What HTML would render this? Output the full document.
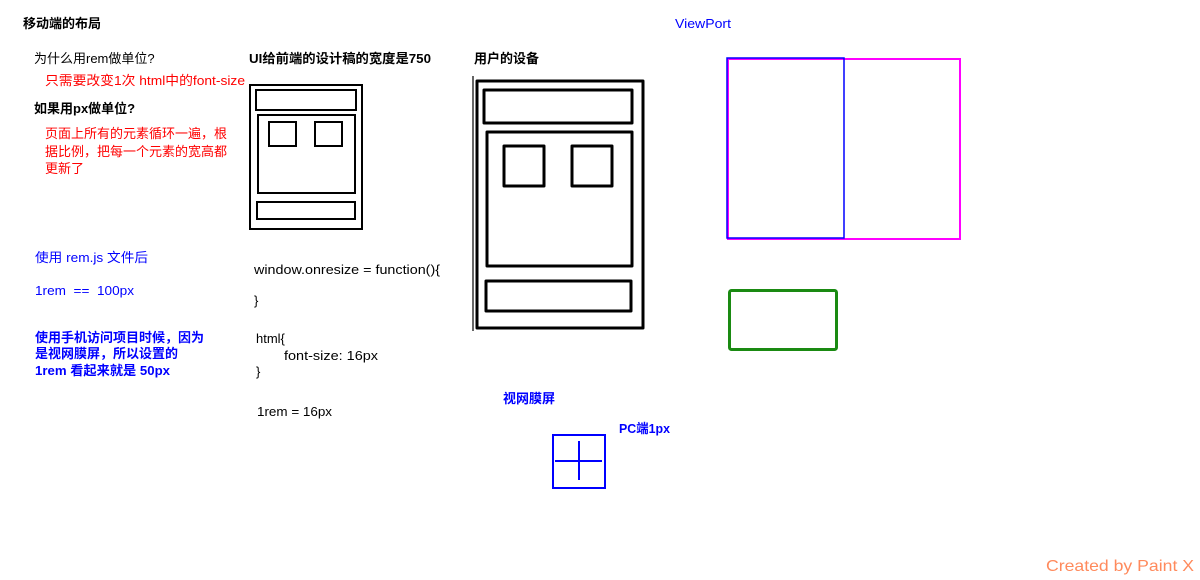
<!DOCTYPE html>
<html><head><meta charset="utf-8"><style>
html,body{margin:0;padding:0;background:#fff;}
svg{display:block;}
text{font-family:"Liberation Sans","Noto Sans CJK SC",sans-serif;font-size:13px;white-space:pre;}
.b{font-weight:bold;}
</style></head><body>
<svg width="1200" height="580" viewBox="0 0 1200 580" xmlns="http://www.w3.org/2000/svg">
<rect width="1200" height="580" fill="#fff"/>
<text x="23" y="28" class="b" fill="#000">移动端的布局</text>
<text x="34" y="63" fill="#000">为什么用rem做单位?</text>
<text x="45" y="85" fill="#f00" textLength="200" lengthAdjust="spacingAndGlyphs">只需要改变1次 html中的font-size</text>
<text x="34" y="113" class="b" fill="#000">如果用px做单位?</text>
<text x="45" y="138" fill="#f00">页面上所有的元素循环一遍，根</text>
<text x="45" y="156" fill="#f00">据比例，把每一个元素的宽高都</text>
<text x="45" y="173" fill="#f00">更新了</text>
<text x="35" y="262" fill="#00f" textLength="113" lengthAdjust="spacingAndGlyphs">使用 rem.js 文件后</text>
<text x="35" y="295" fill="#00f" textLength="99" lengthAdjust="spacingAndGlyphs">1rem  ==  100px</text>
<text x="35" y="342" class="b" fill="#00f">使用手机访问项目时候，因为</text>
<text x="35" y="358" class="b" fill="#00f">是视网膜屏，所以设置的</text>
<text x="35" y="375" class="b" fill="#00f" textLength="135" lengthAdjust="spacingAndGlyphs">1rem 看起来就是 50px</text>

<text x="249" y="63" class="b" fill="#000" textLength="182" lengthAdjust="spacingAndGlyphs">UI给前端的设计稿的宽度是750</text>
<g fill="none" stroke="#000" stroke-width="2">
<rect x="250" y="85" width="112" height="144"/>
<rect x="256" y="90" width="100" height="20"/>
<rect x="258" y="115" width="97" height="78"/>
<rect x="269" y="122" width="27" height="24"/>
<rect x="315" y="122" width="27" height="24"/>
<rect x="257" y="202" width="98" height="17"/>
</g>
<text x="254" y="274" fill="#000" textLength="186" lengthAdjust="spacingAndGlyphs">window.onresize = function(){</text>
<text x="254" y="305" fill="#000">}</text>
<text x="256" y="343" fill="#000">html{</text>
<text x="284" y="360" fill="#000" textLength="94" lengthAdjust="spacingAndGlyphs">font-size: 16px</text>
<text x="256" y="376" fill="#000">}</text>
<text x="257" y="416" fill="#000" textLength="75" lengthAdjust="spacingAndGlyphs">1rem = 16px</text>

<text x="474" y="63" class="b" fill="#000">用户的设备</text>
<line x1="473" y1="76" x2="473" y2="331" stroke="#000" stroke-width="1.2"/>
<g fill="none" stroke="#000" stroke-width="3" stroke-linejoin="round">
<rect x="477" y="81" width="166" height="247"/>
<rect x="484" y="90" width="148" height="33"/>
<rect x="487" y="132" width="145" height="134"/>
<rect x="504" y="146" width="40" height="40"/>
<rect x="572" y="146" width="40" height="40"/>
<rect x="486" y="281" width="145" height="30"/>
</g>

<text x="675" y="28" fill="#00f" textLength="56" lengthAdjust="spacingAndGlyphs">ViewPort</text>
<rect x="728" y="59" width="232" height="180" fill="none" stroke="#f0f" stroke-width="2"/>
<rect x="727" y="58" width="117" height="180" fill="none" stroke="#00f" stroke-width="1.5"/>
<rect x="729.5" y="290.5" width="107" height="59" rx="2" fill="none" stroke="#1a8a12" stroke-width="3"/>

<text x="503" y="403" class="b" fill="#00f">视网膜屏</text>
<text x="619" y="433" class="b" fill="#00f" textLength="51" lengthAdjust="spacingAndGlyphs">PC端1px</text>
<rect x="553" y="435" width="52" height="53" fill="none" stroke="#00f" stroke-width="2"/>
<line x1="579" y1="441" x2="579" y2="480" stroke="#00f" stroke-width="2"/>
<line x1="555" y1="461" x2="602" y2="461" stroke="#00f" stroke-width="2"/>

<text x="1046" y="571" fill="#ff8a5c" style="font-size:16px" textLength="148" lengthAdjust="spacingAndGlyphs">Created by Paint X</text>
</svg>
</body></html>
